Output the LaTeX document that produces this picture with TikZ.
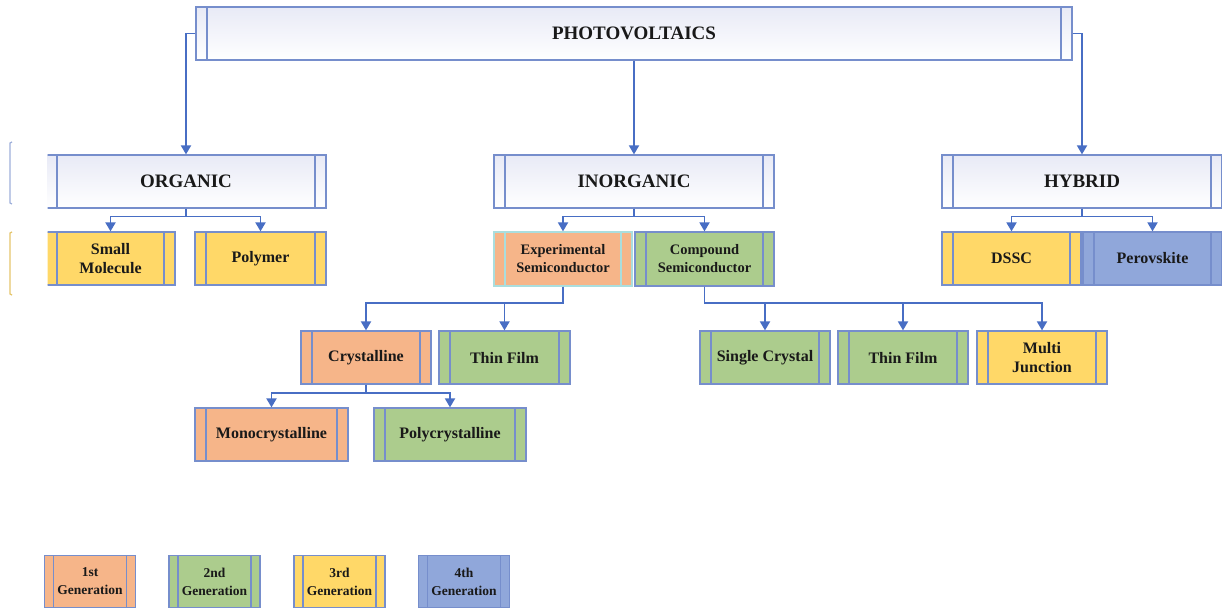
\documentclass[tikz,border=0pt]{standalone}
\usepackage{fontspec}
\setmainfont{Liberation Serif}
\usetikzlibrary{arrows.meta}
\definecolor{boxline}{RGB}{118,142,204}
\definecolor{arrline}{RGB}{72,110,196}
\definecolor{cyanline}{RGB}{170,222,222}
\definecolor{gen1}{RGB}{246,181,137}
\definecolor{gen2}{RGB}{172,204,141}
\definecolor{gen3}{RGB}{255,216,104}
\definecolor{gen4}{RGB}{144,167,218}
\definecolor{headtop}{RGB}{232,234,246}
\definecolor{txt}{RGB}{25,25,25}

\begin{document}
\begin{tikzpicture}[x=1pt,y=-1pt,>={Triangle[width=10pt,length=9pt]},
	procinner/.style={boxline},
	proc/.style={draw=boxline,line width=1.2pt,rectangle,inner sep=0pt,minimum height=53pt,align=center,text=txt,
		font=\bfseries\fontsize{16}{19}\selectfont,
		path picture={
			\draw[procinner,line width=1.2pt] ([xshift=#1]path picture bounding box.north west)--([xshift=#1]path picture bounding box.south west);
			\draw[procinner,line width=1.2pt] ([xshift=-#1]path picture bounding box.north east)--([xshift=-#1]path picture bounding box.south east);
		}},
	proc/.default=11pt,
	small/.style={font=\bfseries\fontsize{14.5}{18}\selectfont},
	head/.style={proc,top color=headtop,bottom color=white,font=\bfseries\fontsize{19}{22}\selectfont},
	arr/.style={->,draw=arrline,line width=1.8pt}]
	\useasboundingbox (0,0) rectangle (1222,609);
	\fill[white] (0,0) rectangle (1222,609);
	\draw[boxline!70,line width=1.2pt] (12,142)--(10,143)--(10,203)--(12,204);
	\draw[gen3!80!gray,line width=1.2pt] (12,232)--(10,233)--(10,294)--(12,295);

	\node[head=4pt,minimum width=876pt] (pv) at (634,33.5) {PHOTOVOLTAICS};
	\begin{scope}
		\clip (47.5,100) rectangle (400,300);
		\node[head,minimum width=280pt] (org) at (186,181.5) {ORGANIC};
		\node[proc,fill=gen3,minimum width=129pt] (small) at (110.5,258.5) {Small\\Molecule};
	\end{scope}
	\node[head,minimum width=280pt] (inorg) at (634,181.5) {INORGANIC};
	\node[head,minimum width=280pt] (hyb) at (1082,181.5) {HYBRID};

	\node[proc,fill=gen3,minimum width=131pt] (poly) at (260.5,258.5) {Polymer};
	\node[proc,small,fill=gen1,draw=cyanline,procinner/.style={cyanline},minimum width=138pt,minimum height=54pt] (exp) at (563,259) {Experimental\\Semiconductor};
	\node[proc,small,fill=gen2,minimum width=139pt,minimum height=54pt] (comp) at (704.5,259) {Compound\\Semiconductor};
	\node[proc,fill=gen3,minimum width=139pt] (dssc) at (1011.5,258.5) {DSSC};
	\node[proc,fill=gen4,minimum width=139pt] (perov) at (1152.5,258.5) {Perovskite};

	\node[proc,fill=gen1,minimum width=130pt] (cryst) at (366,357.5) {Crystalline};
	\node[proc,fill=gen2,minimum width=131pt] (thin) at (504.5,357.5) {Thin Film};
	\node[proc,fill=gen2,minimum width=130pt] (single) at (765,357.5) {Single Crystal};
	\node[proc,fill=gen2,minimum width=130pt] (thinb) at (903,357.5) {Thin Film};
	\node[proc,fill=gen3,minimum width=130pt] (multi) at (1042,357.5) {Multi\\Junction};

	\node[proc,fill=gen1,minimum width=153pt] (mono) at (271.5,434.5) {Monocrystalline};
	\node[proc,fill=gen2,minimum width=152pt] (polyc) at (450,434.5) {Polycrystalline};

	\foreach \n/\x/\c/\g in {1/90/gen1/1st,2/214.5/gen2/2nd,3/339.5/gen3/3rd,4/464/gen4/4th}
		\node[proc=9pt,fill=\c,minimum width=91pt,minimum height=52pt,font=\bfseries\fontsize{13.5}{18}\selectfont] (leg\n) at (\x,581.5) {\g\\Generation};

	\draw[arr] (pv.west) -| (org.north);
	\draw[arr] (pv.south) -- (inorg.north);
	\draw[arr] (pv.east) -| (hyb.north);

	\foreach \a/\b in {org/small,org/poly,inorg/exp,inorg/comp,hyb/dssc,hyb/perov,cryst/mono,cryst/polyc}
		\draw[arr] (\a.south) -- ++(0,8) -| (\b.north);
	\foreach \b in {cryst,thin}
		\draw[arr] (exp.south) -- ++(0,16) -| (\b.north);
	\foreach \b in {single,thinb,multi}
		\draw[arr] (comp.south) -- ++(0,16) -| (\b.north);
\end{tikzpicture}
\end{document}
